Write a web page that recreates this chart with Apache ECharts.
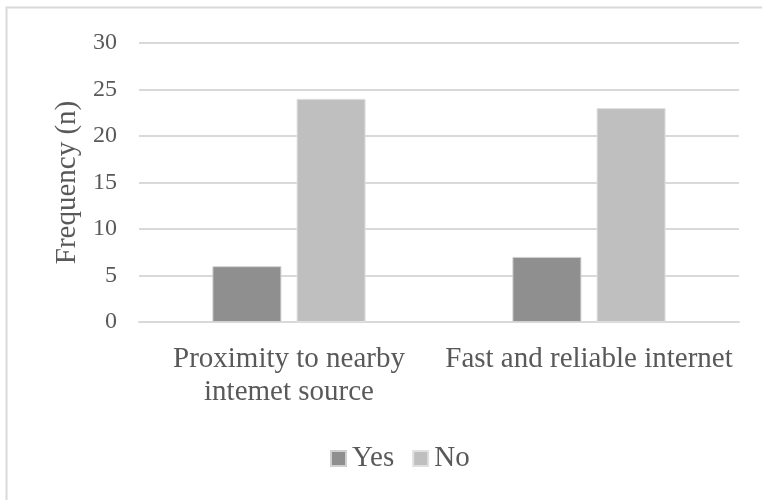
<!DOCTYPE html>
<html lang="en">
<head>
    <meta charset="UTF-8">
    <title>Frequency</title>
    <script src="https://cdn.jsdelivr.net/npm/echarts@6/dist/echarts.min.js"></script>
    <style>
        html, body { margin: 0; padding: 0; background: #fff; }
        #chart { width: 762px; height: 500px; }
    </style>
</head>
<body>
    <div id="chart"></div>
<script>
    // data
    var categories = ['Proximity to nearby\nintemet source', 'Fast and reliable internet'];
    var yesValues = [6, 7];
    var noValues = [24, 23];

    var font = '"Liberation Serif", "Times New Roman", serif';
    var textColor = '#595959';

    var myChart = echarts.init(document.getElementById('chart'));
    var option = {
        backgroundColor: '#fff',
        animation: false,
        graphic: [{
            type: 'rect',
            shape: { x: 6.5, y: 7.5, width: 800, height: 600 },
            style: { fill: 'none', stroke: '#d9d9d9', lineWidth: 2 },
            silent: true
        }],
        grid: { left: 139, right: 23, top: 43, bottom: 178 },
        legend: {
            data: ['Yes', 'No'],
            left: 325,
            top: 439,
            itemWidth: 15,
            itemHeight: 15,
            itemGap: 18,
            icon: 'rect',
            textStyle: { fontFamily: font, fontSize: 29, color: textColor, padding: [0, 0, 0, 1] }
        },
        xAxis: {
            type: 'category',
            data: categories,
            axisLine: { lineStyle: { color: '#d9d9d9', width: 2 } },
            axisTick: { show: false },
            axisLabel: {
                fontFamily: font, fontSize: 29, color: textColor,
                margin: 21, lineHeight: 33, interval: 0
            }
        },
        yAxis: {
            type: 'value',
            min: 0,
            max: 30,
            interval: 5,
            name: 'Frequency (n)',
            nameLocation: 'middle',
            nameGap: 53,
            nameTextStyle: { fontFamily: font, fontSize: 29, color: textColor },
            axisLine: { show: false },
            axisTick: { show: false },
            axisLabel: { fontFamily: font, fontSize: 24, color: textColor, margin: 22 },
            splitLine: { lineStyle: { color: '#d9d9d9', width: 2 } }
        },
        series: [{
            name: 'Yes',
            type: 'bar',
            data: yesValues,
            barWidth: '23%',
            barGap: '22%',
            itemStyle: { color: '#8f8f8f', borderColor: '#d0d0d0', borderWidth: 1 }
        }, {
            name: 'No',
            type: 'bar',
            data: noValues,
            barWidth: '23%',
            itemStyle: { color: '#bfbfbf', borderColor: '#e0e0e0', borderWidth: 1 }
        }]
    };
    myChart.setOption(option);
</script>
</body>
</html>
